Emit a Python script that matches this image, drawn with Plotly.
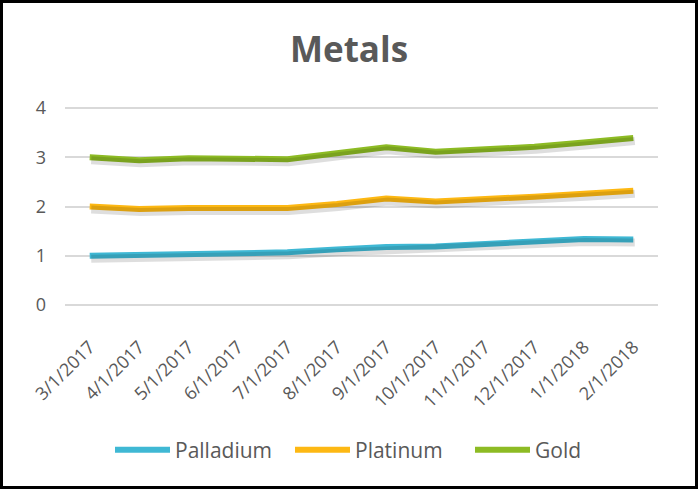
import plotly.graph_objects as go

dates = ["3/1/2017", "4/1/2017", "5/1/2017", "6/1/2017", "7/1/2017", "8/1/2017",
         "9/1/2017", "10/1/2017", "11/1/2017", "12/1/2017", "1/1/2018", "2/1/2018"]
palladium = [1.00, 1.02, 1.05, 1.04, 1.07, 1.13, 1.18, 1.19, 1.24, 1.29, 1.34, 1.33]
platinum = [2.00, 1.95, 1.97, 1.97, 1.97, 2.05, 2.16, 2.10, 2.14, 2.20, 2.26, 2.32]
gold = [3.00, 2.94, 2.98, 2.98, 2.96, 3.08, 3.20, 3.11, 3.15, 3.21, 3.30, 3.39]
yticks = [0, 1, 2, 3, 4]

names = ["Palladium", "Platinum", "Gold"]
series = [palladium, platinum, gold]
colors = ["#3FB8D4", "#FDB813", "#8DBB24"]

W, H = 698, 489
ml, mr, mt, mb = 65, 40, 103, 179
pw, ph = W - ml - mr, H - mt - mb
ylo, yhi = -0.1, 4.1
yspan = yhi - ylo

fig = go.Figure()
xi = list(range(len(dates)))
# soft shadows
for s in series:
    fig.add_trace(go.Scatter(x=xi, y=s, mode="lines", xaxis="x2", yaxis="y2",
                             line=dict(color="rgba(0,0,0,0.13)", width=8),
                             showlegend=False, hoverinfo="skip"))
for n, s, c in zip(names, series, colors):
    fig.add_trace(go.Scatter(x=xi, y=s, mode="lines", name=n,
                             line=dict(color=c, width=6)))

tickfont = dict(family="Open Sans, Noto Sans, sans-serif", size=18, color="#595959")
fig.update_layout(
    width=W, height=H,
    margin=dict(l=ml, r=mr, t=mt, b=mb),
    paper_bgcolor="white", plot_bgcolor="white",
    title=dict(text="<b>Metals</b>", x=0.5, xanchor="center", y=1 - 50 / H, yanchor="middle",
               font=dict(family="Open Sans, Liberation Sans, sans-serif", size=35, color="#595959")),
    xaxis=dict(range=[-0.5, 11.5], tickmode="array", tickvals=xi, ticktext=dates,
               tickangle=-45, tickfont=tickfont, showgrid=False, zeroline=False,
               showline=False, ticks="", ticklabelstandoff=22),
    yaxis=dict(range=[ylo, yhi], tickvals=yticks, tickfont=tickfont, showgrid=True,
               gridcolor="#D9D9D9", gridwidth=2, zeroline=False, showline=False,
               ticklabelstandoff=18),
    xaxis2=dict(range=[-0.5 - 1.5 / pw * 12, 11.5 - 1.5 / pw * 12], overlaying="x",
                visible=False),
    yaxis2=dict(range=[ylo + 3 / ph * yspan, yhi + 3 / ph * yspan], overlaying="y", visible=False),
    legend=dict(orientation="h", x=(110 - ml) / pw, xanchor="left", y=-(450 - (H - mb)) / ph,
                yanchor="middle", font=dict(family="Open Sans, Noto Sans, sans-serif",
                                            size=21, color="#595959"),
                itemwidth=55, traceorder="normal", entrywidth=110),
    showlegend=True,
)
# outer frame
fig.add_shape(type="rect", xref="paper", yref="paper",
              x0=-(ml - 1.5) / pw, x1=1 + (mr - 1.5) / pw,
              y0=-(mb - 1.5) / ph, y1=1 + (mt - 1.5) / ph,
              line=dict(color="black", width=3), fillcolor="rgba(0,0,0,0)")

fig.write_html("out.html", post_script="document.body.style.margin='0';",
               config={"displayModeBar": False})
